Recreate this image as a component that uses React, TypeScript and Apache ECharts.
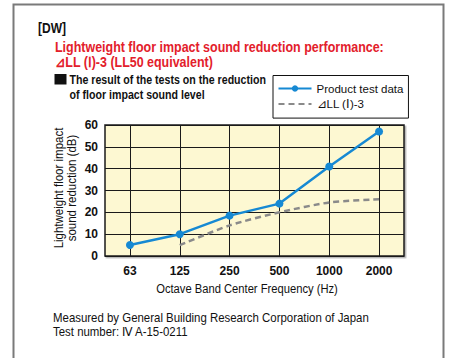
import React, { useEffect, useRef } from "react";
import * as echarts from "echarts";

// Octave band centre frequencies (Hz)
const frequencies = ["63", "125", "250", "500", "1000", "2000"];
// Measured reduction of the product (dB)
const productTestData = [5, 10, 18.5, 24, 41, 57];
// ⊿LL(Ⅰ)-3 reference curve (dB); no value at 63 Hz
const referenceCurve: (number | null)[] = [null, 5, 14, 20, 24.5, 26];
const yTicks = { min: 0, max: 60, interval: 10 };

const FONT = "'Liberation Sans', Arial, sans-serif";
const INK = "#111";
const BLUE = "#1689d3";
const GREY = "#8a8a8a";

// Condensed-looking text: a regular face squeezed horizontally
function label(
  text: string,
  x: number,
  y: number,
  opts: { size?: number; bold?: boolean; fill?: string; scaleX?: number; align?: string; rotation?: number; lineHeight?: number } = {}
) {
  return {
    type: "text",
    x,
    y,
    rotation: opts.rotation ?? 0,
    scaleX: opts.scaleX ?? 0.86,
    silent: true,
    style: {
      text,
      fontFamily: FONT,
      fontSize: opts.size ?? 12.5,
      fontWeight: opts.bold ? "bold" : "normal",
      fill: opts.fill ?? INK,
      textAlign: opts.align ?? "left",
      verticalAlign: "middle",
      lineHeight: opts.lineHeight,
    },
  };
}

export default function App() {
  const ref = useRef<HTMLDivElement>(null);

  useEffect(() => {
    document.body.style.margin = "0";
    const chart = echarts.init(ref.current!, null, { renderer: "svg" });
    chart.setOption({
      animation: false,
      backgroundColor: "#ffffff",
      textStyle: { fontFamily: FONT },
      grid: {
        left: 105,
        top: 125,
        width: 299,
        height: 131,
        show: true,
        backgroundColor: "#fdf8d2",
        borderColor: "#1a1a1a",
        borderWidth: 1.5,
        shadowColor: "rgba(0,0,0,0.3)",
        shadowOffsetX: 1.5,
        shadowOffsetY: 1.5,
        shadowBlur: 1,
      },
      legend: {
        orient: "vertical",
        left: 273,
        top: 75.5,
        padding: [6, 5, 7, 4.5],
        itemGap: 1.6,
        itemWidth: 33,
        itemHeight: 8,
        borderColor: INK,
        borderWidth: 1,
        backgroundColor: "#fff",
        textStyle: { fontFamily: FONT, fontSize: 11.5, lineHeight: 14, color: INK },
        data: [
          { name: "Product test data" },
          { name: "⊿LL (Ⅰ)-3", itemStyle: { color: "rgba(0,0,0,0)", borderWidth: 0 } },
        ],
      },
      xAxis: {
        type: "category",
        data: frequencies,
        boundaryGap: true,
        axisLine: { show: false },
        axisTick: { show: false },
        axisLabel: { fontFamily: FONT, fontSize: 12, fontWeight: "bold", color: INK, margin: 9 },
        splitLine: { show: true, alignWithLabel: true, lineStyle: { color: "#1a1a1a", width: 1 } },
      },
      yAxis: {
        type: "value",
        min: yTicks.min,
        max: yTicks.max,
        interval: yTicks.interval,
        axisLine: { show: false },
        axisTick: { show: false },
        axisLabel: { fontFamily: FONT, fontSize: 12, fontWeight: "bold", color: INK, margin: 7 },
        splitLine: { show: true, lineStyle: { color: "#1a1a1a", width: 1 } },
      },
      series: [
        {
          name: "Product test data",
          type: "line",
          data: productTestData,
          symbol: "circle",
          symbolSize: 8,
          color: BLUE,
          lineStyle: { width: 2.5, color: BLUE },
          itemStyle: { color: BLUE },
          z: 3,
        },
        {
          name: "⊿LL (Ⅰ)-3",
          type: "line",
          data: referenceCurve,
          symbol: "none",
          smooth: 0.25,
          color: GREY,
          lineStyle: { width: 2.5, type: [6, 4], color: GREY },
          z: 2,
        },
      ],
      graphic: [
        {
          type: "rect",
          shape: { x: 13.5, y: 4.5, width: 430, height: 400 },
          style: { fill: "none", stroke: "#7a7a7a", lineWidth: 2 },
          silent: true,
        },
        label("[DW]", 38, 28.5, { size: 14, bold: true }),
        label("Lightweight floor impact sound reduction performance:", 55, 47, { size: 14, bold: true, fill: "#e3202b", scaleX: 0.89 }),
        label("⊿LL (Ⅰ)-3 (LL50 equivalent)", 55, 62, { size: 14, bold: true, fill: "#e3202b", scaleX: 0.89 }),
        {
          type: "rect",
          shape: { x: 54.5, y: 74, width: 12, height: 10.5 },
          style: { fill: INK },
          silent: true,
        },
        label("The result of the tests on the reduction", 69.5, 79.5, { size: 12.5, bold: true, scaleX: 0.85 }),
        label("of floor impact sound level", 69.5, 94.5, { size: 12.5, bold: true, scaleX: 0.85 }),
        label("Lightweight floor impact\nsound reduction (dB)", 65.5, 188, {
          size: 12.5,
          scaleX: 0.92,
          align: "center",
          rotation: Math.PI / 2,
          lineHeight: 13,
        }),
        label("Octave Band Center Frequency (Hz)", 247, 289, { size: 13.5, align: "center", scaleX: 0.83 }),
        label("Measured by General Building Research Corporation of Japan", 53, 318, { size: 13, scaleX: 0.88 }),
        label("Test number: Ⅳ A-15-0211", 53, 332, { size: 13, scaleX: 0.88 }),
      ],
    });
    return () => chart.dispose();
  }, []);

  return <div ref={ref} style={{ width: 460, height: 358 }} />;
}
